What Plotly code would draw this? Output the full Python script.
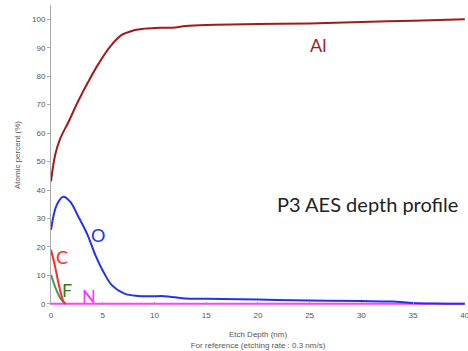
import plotly.graph_objects as go

al_x = [0, 0.4, 0.9, 1.7, 2.6, 3.6, 4.6, 5.7, 6.8, 8, 9, 10, 11, 12, 13, 15, 20, 25, 30, 35, 40]
al_y = [43, 52.3, 58.1, 64, 71, 78, 84.4, 90.3, 94.4, 96.1, 96.7, 96.9, 97, 97.1, 97.6, 98, 98.3, 98.5, 99, 99.5, 100]

o_x = [0, 0.55, 1.2, 1.85, 2.65, 3.5, 4.3, 5.1, 5.9, 7.1, 8.4, 9.7, 11, 12, 13, 15, 20, 25, 30, 33, 35, 37, 40]
o_y = [26, 34.7, 37.6, 35.9, 30.6, 24.5, 17, 11, 6.5, 3.6, 2.8, 2.7, 2.7, 2.3, 1.9, 1.8, 1.5, 1.2, 1.0, 0.8, 0.3, 0.1, 0]

c_x = [0, 0.4, 0.8, 1.2, 1.4]
c_y = [19, 13, 6, 0.8, 0]

f_x = [0, 0.4, 0.9, 1.3, 1.4]
f_y = [10.2, 6, 2, 0.3, 0]

n_x = [0, 40]
n_y = [0, 0]

x_ticks = [0, 5, 10, 15, 20, 25, 30, 35, 40]
y_ticks = [0, 10, 20, 30, 40, 50, 60, 70, 80, 90, 100]

fig = go.Figure()
fig.add_trace(go.Scatter(x=n_x, y=n_y, mode="lines", line=dict(color="#ff40ff", width=2)))
fig.add_trace(go.Scatter(x=f_x, y=f_y, mode="lines", line=dict(color="#3f9a5a", width=2, shape="spline")))
fig.add_trace(go.Scatter(x=c_x, y=c_y, mode="lines", line=dict(color="#ff2a2a", width=2, shape="spline")))
fig.add_trace(go.Scatter(x=o_x, y=o_y, mode="lines", line=dict(color="#2233ee", width=2, shape="spline")))
fig.add_trace(go.Scatter(x=al_x, y=al_y, mode="lines", line=dict(color="#9e1c1c", width=2, shape="spline")))

lab_font = "Lato, Open Sans, sans-serif"
ann = [
    dict(x=25.8, y=91, text="Al", font=dict(color="#a01c1c", size=18)),
    dict(x=4.5, y=24.3, text="O", font=dict(color="#2233ee", size=18)),
    dict(x=1.1, y=16.5, text="C", font=dict(color="#ff2a2a", size=18)),
    dict(x=1.5, y=4.8, text="F", font=dict(color="#3a7a18", size=18)),
    dict(x=3.7, y=2.8, text="N", font=dict(color="#ff30ff", size=18)),
    dict(x=30.6, y=35, text="P3 AES depth profile", font=dict(color="#222222", size=20)),
]
for a in ann:
    a["font"]["family"] = lab_font
    fig.add_annotation(x=a["x"], y=a["y"], text=a["text"], font=a["font"], showarrow=False,
                       xref="x", yref="y")

axis_font = dict(family="Liberation Sans, Arial, sans-serif", size=8, color="#555555")
fig.update_layout(
    width=468, height=351,
    margin=dict(l=51, r=3, t=5, b=46, autoexpand=False),
    paper_bgcolor="white", plot_bgcolor="white",
    showlegend=False,
    xaxis=dict(range=[0, 40.02], tickvals=x_ticks, showgrid=False, zeroline=False,
               showline=False, ticks="inside", ticklen=3, tickcolor="#999999", tickfont=axis_font,
               automargin=False, ticklabelstandoff=4, ticklabeloverflow="allow",
               title=dict(text="Etch Depth (nm)<br>For reference (etching rate : 0.3 nm/s)",
                          font=axis_font, standoff=12)),
    yaxis=dict(range=[-0.4, 105], tickvals=y_ticks, showgrid=False,
               zeroline=False, showline=True, linecolor="#aaaaaa", linewidth=1, ticks="outside", ticklen=3,
               tickcolor="#aaaaaa", tickfont=axis_font, automargin=False,
               title=dict(text="Atomic percent (%)", font=axis_font, standoff=10)),
)
fig.write_html("out.html", config={"displayModeBar": False},
               post_script="document.body.style.margin='0';document.body.style.overflow='hidden';")
